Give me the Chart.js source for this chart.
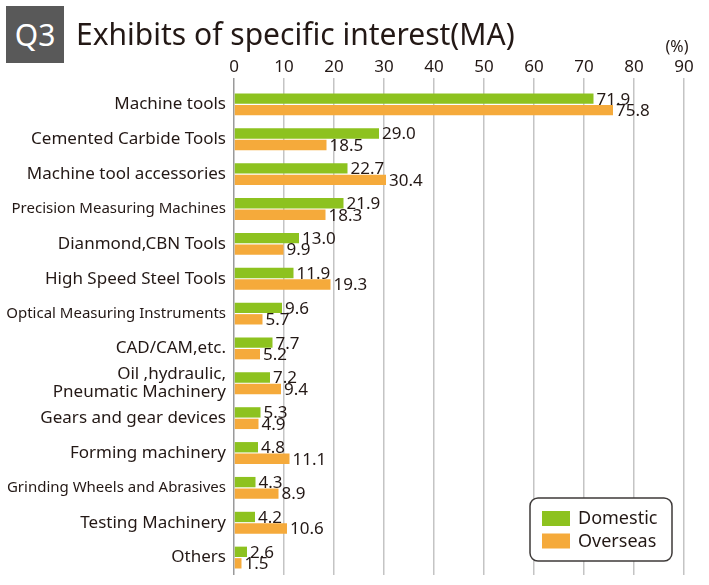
<!DOCTYPE html>
<html>
<head>
<meta charset="utf-8">
<script src="https://cdn.jsdelivr.net/npm/chart.js@4/dist/chart.umd.min.js"></script>
<style>
body{margin:0;background:#fff;}
#wrap{position:relative;width:709px;height:585px;}
#qbox{position:absolute;left:6px;top:6px;width:58px;height:57px;background:#595959;color:#fff;
 font:30px "Noto Sans",sans-serif;line-height:57px;text-align:center;}
#ttl{position:absolute;left:76px;top:14px;color:#231815;font:30px "Noto Sans",sans-serif;line-height:40px;white-space:nowrap;}
canvas{position:absolute;left:0;top:0;}
</style>
</head>
<body>
<div id="wrap">
<canvas id="q3Chart" width="709" height="585"></canvas>
<div id="qbox">Q3</div>
<div id="ttl">Exhibits of specific interest(MA)</div>
</div>
<script>
// data
let categories = ['Machine tools','Cemented Carbide Tools','Machine tool accessories','Precision Measuring Machines',
	'Dianmond,CBN Tools','High Speed Steel Tools','Optical Measuring Instruments','CAD/CAM,etc.',
	['Oil ,hydraulic,','Pneumatic Machinery'],'Gears and gear devices','Forming machinery',
	'Grinding Wheels and Abrasives','Testing Machinery','Others'];
let domestic = [71.9,29.0,22.7,21.9,13.0,11.9,9.6,7.7,7.2,5.3,4.8,4.3,4.2,2.6];
let overseas = [75.8,18.5,30.4,18.3,9.9,19.3,5.7,5.2,9.4,4.9,11.1,8.9,10.6,1.5];
let seriesNames = ['Domestic','Overseas'];
let xTicks = [0,10,20,30,40,50,60,70,80,90];
let smallLabels = [3,6,11]; // these are set in a narrower type

let FONT = '"Noto Sans", sans-serif';
let TXT = '#231815';

let valueLabels = {
	id:'valueLabels',
	afterDatasetsDraw:chart=>{
		let c = chart.ctx;
		c.save();
		c.font = '17px '+FONT;
		c.fillStyle = TXT;
		c.textBaseline = 'middle';
		chart.data.datasets.forEach((ds,i)=>{
			chart.getDatasetMeta(i).data.forEach((bar,j)=>{
				c.fillText(ds.data[j].toFixed(1), bar.x+3, bar.y+1);
			})
		})
		// unit label above the 90 tick
		let xs = chart.scales.x;
		c.textAlign = 'center';
		c.font = '16px '+FONT;
		c.fillText('(%)', xs.getPixelForValue(90)-7, 47);
		c.restore();
	}
}

let boxLegend = {
	id:'boxLegend',
	afterDraw:chart=>{
		let c = chart.ctx, a = chart.chartArea;
		let w = 142, h = 63;
		let x = a.right-12-w, y = a.bottom-14-h;
		c.save();
		c.beginPath();
		c.roundRect(x,y,w,h,8);
		c.fillStyle = '#fff';
		c.fill();
		c.lineWidth = 1.5;
		c.strokeStyle = '#3e3a39';
		c.stroke();
		c.font = '18px '+FONT;
		c.textBaseline = 'middle';
		chart.data.datasets.forEach((ds,i)=>{
			let yy = y+13+i*22.5;
			c.fillStyle = ds.backgroundColor;
			c.fillRect(x+12, yy, 28, 15);
			c.fillStyle = TXT;
			c.fillText(ds.label, x+48, yy+8);
		})
		c.restore();
	}
}

let ctx = document.getElementById('q3Chart');
new Chart(ctx,{
	type:'bar',
	data:{
		labels:categories,
		datasets:[
			{label:seriesNames[0],data:domestic,backgroundColor:'#8dc21f'},
			{label:seriesNames[1],data:overseas,backgroundColor:'#f5aa3b'}
		]
	},
	options:{
		indexAxis:'y',
		responsive:false,
		animation:false,
		categoryPercentage:0.66,
		barPercentage:0.9,
		layout:{padding:{left:0,right:25,top:50,bottom:10}},
		plugins:{legend:{display:false},tooltip:{enabled:false}},
		scales:{
			x:{
				position:'top',
				min:0,max:90,
				afterBuildTicks:s=>{s.ticks = xTicks.map(v=>({value:v}))},
				afterFit:s=>{s.height = 37},
				border:{display:false},
				grid:{
					color:c=>c.tick && c.tick.value===0 ? '#9a9a9a' : '#c4c4c4',
					lineWidth:1.5,
					tickLength:9,
					drawTicks:true
				},
				ticks:{color:TXT,font:{size:17,family:FONT},padding:1}
			},
			y:{
				afterFit:s=>{s.width = 234},
				border:{display:false},
				grid:{display:false},
				ticks:{
					autoSkip:false,
					color:TXT,
					padding:0,
					font:c=>({family:FONT,size:smallLabels.includes(c.index)?15:17,lineHeight:1.05})
				}
			}
		}
	},
	plugins:[valueLabels,boxLegend]
});
</script>
</body>
</html>
